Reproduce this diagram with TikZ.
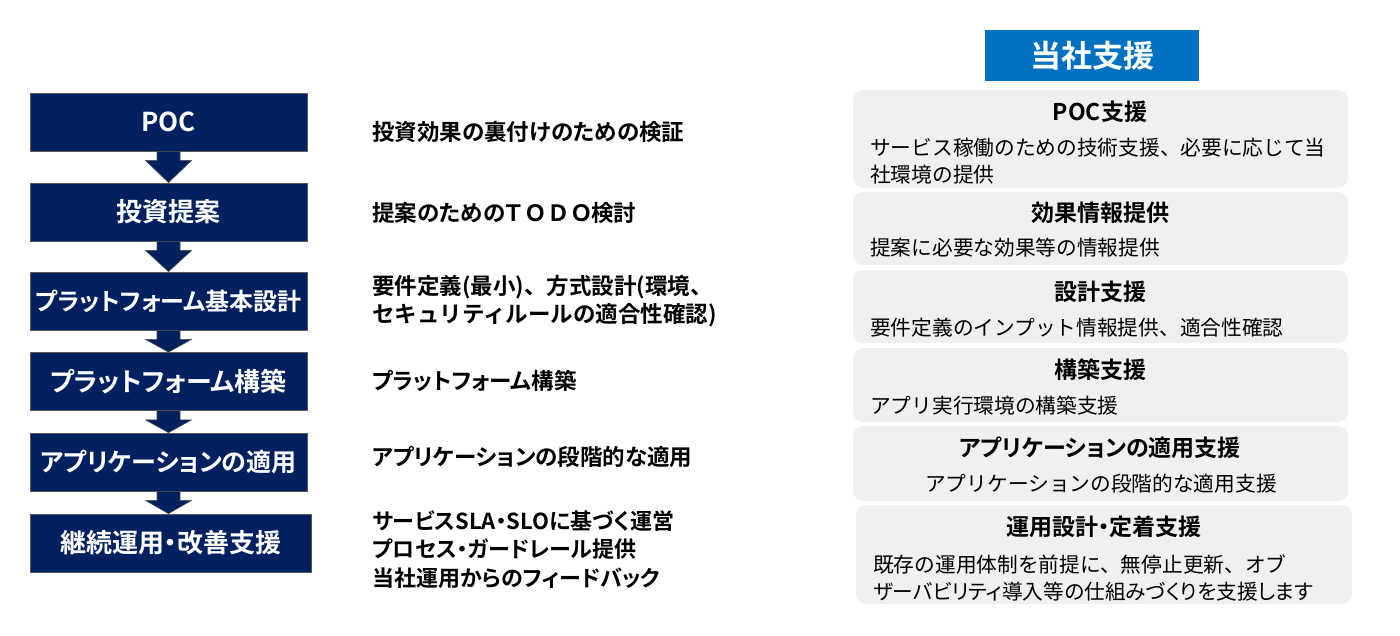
\documentclass[tikz,border=0pt]{standalone}
\usepackage{fontspec}
\setmainfont{Noto Sans CJK JP}[RawFeature=+palt,BoldFont={Noto Sans CJK JP Bold}]
\newfontfamily\jpwide{Noto Sans CJK JP}[BoldFont={Noto Sans CJK JP Bold}]
\usetikzlibrary{calc}
\definecolor{navy}{HTML}{002060}
\definecolor{hdrblue}{HTML}{0070C0}
\definecolor{boxgray}{HTML}{F0F0F0}
\tikzset{
  leftbox/.style={draw=black!65,line width=0.8pt,fill=navy,text=white,font=\bfseries\fontsize{26}{30}\selectfont,minimum width=277pt,minimum height=58pt,inner sep=0pt},
  midtext/.style={anchor=west,align=left,inner sep=0pt,font=\bfseries\fontsize{22.5}{28}\selectfont},
  graybox/.style={fill=boxgray,rounded corners=10pt,minimum width=495pt,inner sep=0pt},
  gtitle/.style={inner sep=0pt,font=\bfseries\fontsize{23}{27}\selectfont},
  gdesc/.style={anchor=west,align=left,inner sep=0pt,font=\jpwide\fontsize{20.7}{27}\selectfont},
  flowarrow/.style={fill=navy,draw=black!70,line width=0.6pt},
}
\newcommand{\stepArrow}[2]{%
  \path[flowarrow] let \p1=(#1.south), \p2=(#2.north) in
    (\x1-11.5,\y1) -- (\x1+11.5,\y1) -- (\x1+11.5,\y1-9) -- (\x1+23,\y1-9)
    -- (\x1,\y2) -- (\x1-23,\y1-9) -- (\x1-11.5,\y1-9) -- cycle;}
\begin{document}
\begin{tikzpicture}[x=1pt,y=-1pt]
\useasboundingbox (0,0) rectangle (1400,635);
% left flow boxes
\node[leftbox] (b1) at (168.5,122) {POC};
\node[leftbox] (b2) at (168.5,212) {投資提案};
\node[leftbox,font=\bfseries\fontsize{24}{28}\selectfont] (b3) at (168.5,301) {プラットフォーム基本設計};
\node[leftbox] (b4) at (168.5,381.5) {プラットフォーム構築};
\node[leftbox,font=\bfseries\fontsize{25}{29}\selectfont] (b5) at (168.5,462) {アプリケーションの適用};
\node[leftbox,minimum width=281pt] (b6) at (170.5,543) {継続運用・改善支援};
\stepArrow{b1}{b2}
\stepArrow{b2}{b3}
\stepArrow{b3}{b4}
\stepArrow{b4}{b5}
\stepArrow{b5}{b6}
% middle descriptions
\node[midtext] (m1) at (372,132) {投資効果の裏付けのための検証};
\node[midtext] (m2) at (372,213) {提案のための\hspace{0pt}Ｔ\,Ｏ\,Ｄ\,Ｏ\hspace{0pt}検討};
\node[midtext,font=\jpwide\bfseries\fontsize{22.5}{28}\selectfont] (m3) at (372,301) {要件定義(最小)、方式設計(環境、\\セキュリティルールの適合性確認)};
\node[midtext] (m4) at (372,381) {プラットフォーム構築};
\node[midtext] (m5) at (372,457) {アプリケーションの段階的な適用};
\node[midtext,font=\bfseries\fontsize{22}{28.5}\selectfont] (m6) at (372,549.5) {サービスSLA・SLOに基づく運営\\プロセス・ガードレール提供\\当社運用からのフィードバック};
% header
\node[fill=hdrblue,text=white,minimum width=214pt,minimum height=51pt,inner sep=0pt,font=\bfseries\fontsize{31}{36}\selectfont] (hdr) at (1092,55.5) {当社支援};
% gray support boxes
\node[graybox,minimum height=98pt] (g1) at (1100.5,139) {};
\node[graybox,minimum height=73pt] (g2) at (1100.5,228.5) {};
\node[graybox,minimum height=73pt] (g3) at (1100.5,306.5) {};
\node[graybox,minimum height=74pt] (g4) at (1100.5,385) {};
\node[graybox,minimum height=75pt] (g5) at (1100.5,463.5) {};
\node[graybox,minimum width=496pt,minimum height=99pt] (g6) at (1104,554.5) {};
% titles
\node[gtitle] (t1) at (1100,112) {POC支援};
\node[gtitle] (t2) at (1100,213) {効果情報提供};
\node[gtitle] (t3) at (1100,292) {設計支援};
\node[gtitle] (t4) at (1100,370) {構築支援};
\node[gtitle] (t5) at (1100,448) {アプリケーションの適用支援};
\node[gtitle] (t6) at (1104,527) {運用設計・定着支援};
% descriptions
\node[gdesc] (d1) at (870,161.5) {サービス稼働のための技術支援、必要に応じて当\\社環境の提供};
\node[gdesc] (d2) at (870,248) {提案に必要な効果等の情報提供};
\node[gdesc] (d3) at (870,328) {要件定義のインプット情報提供、適合性確認};
\node[gdesc] (d4) at (870,406) {アプリ実行環境の構築支援};
\node[gdesc,anchor=center] (d5) at (1101,484) {アプリケーションの段階的な適用支援};
\node[gdesc] (d6) at (873,577.5) {既存の運用体制を前提に、無停止更新、オブ\\{\rmfamily ザーバビリティ導入等の仕組みづくりを支援します}};
\end{tikzpicture}
\end{document}
